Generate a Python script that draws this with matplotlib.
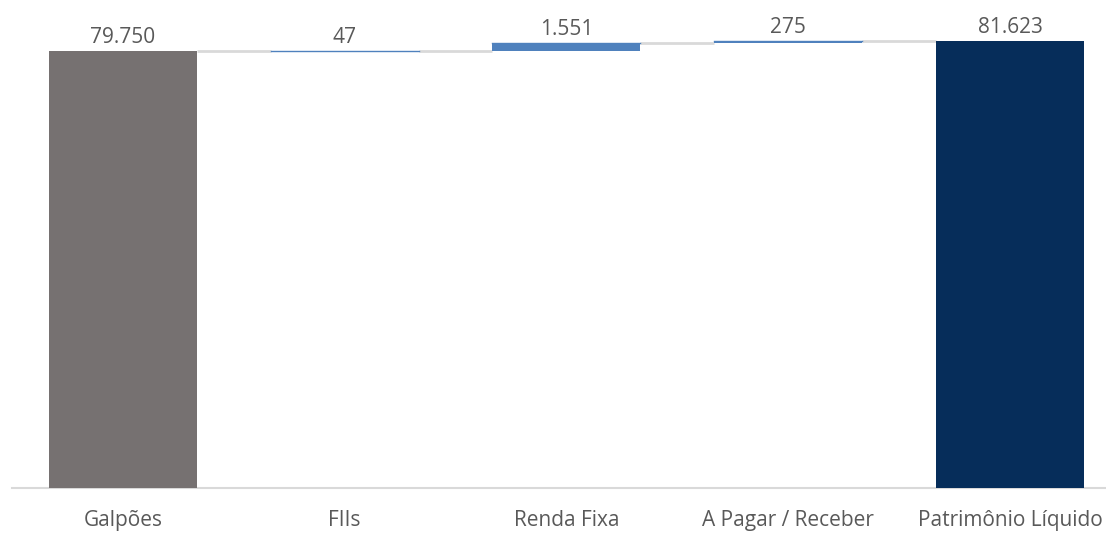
import matplotlib
matplotlib.use('Agg')
import matplotlib.pyplot as plt
import numpy as np

plt.rcParams['font.family'] = ['Open Sans', 'DejaVu Sans']

categories = ['Galpões', 'FIIs', 'Renda Fixa', 'A Pagar / Receber', 'Patrimônio Líquido']
values = [79750, 47, 1551, 275]
labels = ['79.750', '47', '1.551', '275', '81.623']
total = sum(values)

GRAY = '#767171'
BLUE = '#4f81bd'
NAVY = '#062d5a'
LINE = '#d9d9d9'
TEXT = '#595959'

# waterfall: first bar from zero, increments floating, total from zero
levels = np.cumsum(values)
bottoms = [0] + list(levels[:-1]) + [0]
heights = values + [total]
colors = [GRAY, BLUE, BLUE, BLUE, NAVY]

fig = plt.figure(figsize=(11.06, 5.33), dpi=100)
ax = fig.add_axes([12 / 1106, 45 / 533, 1 - 12 / 1106, 488 / 533])

x = np.arange(len(categories))
width = 0.667
ax.bar(x, heights, width, bottom=bottoms, color=colors, edgecolor='none', zorder=3)

# thin increments still show as a hairline
for i in range(1, 4):
    top = bottoms[i] + heights[i]
    ax.plot([x[i] - width / 2, x[i] + width / 2], [top, top], color=BLUE, lw=1, zorder=3)

# connector lines between bars
for i in range(4):
    ax.plot([x[i] + width / 2, x[i + 1] - width / 2], [levels[i], levels[i]],
            color=LINE, lw=2, zorder=2, solid_capstyle='butt')

for i, lab in enumerate(labels):
    top = bottoms[i] + heights[i]
    ax.annotate(lab, (x[i], top), xytext=(0, 2), textcoords='offset points',
                ha='center', va='bottom', fontsize=15, color=TEXT)

ax.set_xlim(-0.5, 4.433)
ax.set_ylim(0, 89110)
ax.set_xticks(x)
ax.set_xticklabels(categories, fontsize=15, color=TEXT)
ax.tick_params(axis='x', length=0, pad=16)
ax.set_yticks([])
for s in ['top', 'right', 'left']:
    ax.spines[s].set_visible(False)
ax.spines['bottom'].set_color(LINE)
ax.spines['bottom'].set_linewidth(1.5)

fig.savefig('out.png', dpi=100, facecolor='white')
